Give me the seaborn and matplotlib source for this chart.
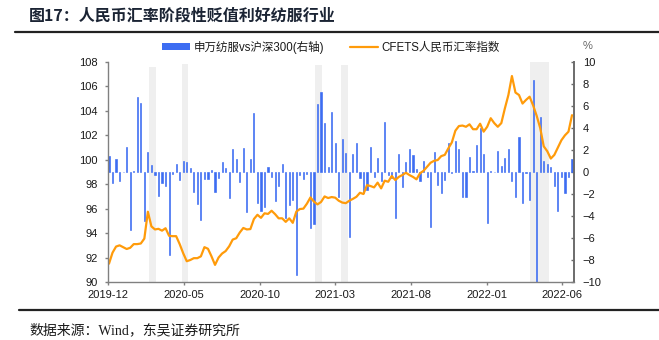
import numpy as np
import pandas as pd
import matplotlib
matplotlib.use("Agg")
import matplotlib.pyplot as plt
import matplotlib.dates as mdates
from matplotlib.ticker import FixedLocator
from matplotlib.patches import Patch
from matplotlib.lines import Line2D
import seaborn as sns

# ---------------- data ----------------
week_start = "2019-12-03"
week_end = "2022-06-22"

excess_ret = [1.45, -0.97, 1.18, -0.8, 0.0, 2.3, -5.3, 0.1, 6.8, 6.3,
              -4.45, 1.8, 0.65, -0.25, -2.2, -1.0, -1.3, -7.5, -0.2, 0.7,
              -0.7, 1.0, 0.9, 0.35, -1.8, -2.9, -4.4, -0.6, -0.65, 0.2,
              -1.85, -0.5, 0.9, 0.35, -2.4, 2.1, 1.15, -0.9, 2.2, -3.6,
              1.2, 5.4, -2.8, -3.55, -3.15, 0.42, -0.42, -2.65, -1.27, 0.7,
              -4.2, -3.0, -2.55, -9.4, -0.25, -0.65, -0.22, -5.06, -4.73, 6.22,
              7.24, 4.42, 0.42, 5.42, 2.6, -2.3, 2.97, 1.75, -5.95, 1.65,
              2.67, -0.5, -1.9, -1.6, 2.24, -0.45, 1.25, -0.8, 4.55, -0.27,
              -0.5, -4.2, 1.6, -1.4, 0.9, 2.12, 1.55, 0.28, -0.8, 1.02,
              -0.44, -5.03, 1.83, -1.2, -1.94, -0.7, 2.62, -0.13, 2.8, 2.06,
              -2.3, -2.3, 1.33, 0.1, 2.45, 3.97, 1.6, -4.6, 0.1, 0.0,
              1.9, 0.55, 1.27, 2.1, -0.8, -2.25, 3.2, -2.8, -0.06, -2.55,
              8.36, -10.4, 4.97, 1.0, 0.7, 0.45, -1.3, -3.5, -0.42, -1.94,
              -0.42, 1.15]

cfets = [91.5, 92.4, 92.9, 93.0, 92.85, 92.7, 92.8, 93.1, 93.1, 93.15,
         93.55, 95.75, 94.55, 94.3, 94.35, 94.2, 94.4, 93.78, 93.75, 93.75,
         93.1, 92.35, 91.7, 91.8, 91.95, 91.95, 92.1, 92.85, 92.72, 92.1,
         91.4, 92.0, 92.33, 92.53, 92.92, 93.47, 93.58, 94.05, 94.42, 94.3,
         94.33, 95.15, 95.5, 95.25, 95.62, 95.57, 95.83, 95.55, 95.21, 95.21,
         94.92, 95.21, 94.84, 95.76, 95.97, 96.0, 96.41, 96.92, 96.57, 96.35,
         96.55, 97.0, 96.87, 96.95, 96.9, 96.65, 96.5, 96.45, 96.65, 96.8,
         96.97, 97.3, 97.2, 97.93, 97.85, 97.74, 98.13, 97.66, 98.29, 98.2,
         98.67, 98.34, 98.6, 98.75, 98.94, 98.75, 98.6, 98.4, 98.9, 99.1,
         99.43, 99.76, 99.92, 99.98, 100.3, 100.4, 100.93, 101.42, 102.38, 102.76,
         102.8, 102.7, 102.9, 102.5, 102.5, 102.95, 102.3, 102.7, 103.4, 103.0,
         102.7, 103.0, 104.2, 105.3, 106.85, 105.5, 105.3, 104.6, 104.9, 105.16,
         104.45, 103.6, 102.6, 101.1, 100.7, 100.1, 100.4, 101.0, 101.6, 102.0,
         102.3, 103.65]

band_start = ["2020-02-21", "2020-04-27", "2021-01-20", "2021-03-13", "2022-03-30"]
band_end = ["2020-03-06", "2020-05-11", "2021-02-03", "2021-03-29", "2022-05-06"]
band_top = [0.979, 0.991, 0.986, 0.986, 1.0]

tick_dates = ["2019-12-01", "2020-05-01", "2020-10-01", "2021-03-01",
              "2021-08-01", "2022-01-01", "2022-06-01"]
x_range = ["2019-12-01", "2022-06-26"]

title = "图17：人民币汇率阶段性贬值利好纺服行业"
bar_label = "申万纺服vs沪深300(右轴)"
line_label = "CFETS人民币汇率指数"
source = "数据来源：Wind，东吴证券研究所"

BLUE = "#3d6df2"
ORANGE = "#ff9b0a"
GRID_GREY = "#808080"

# ---------------- style ----------------
sns.set_theme(style="white")
plt.rcParams["font.family"] = ["Liberation Sans", "Noto Sans CJK SC"]

dates = pd.date_range(week_start, week_end, periods=len(excess_ret))
df = pd.DataFrame({"x": mdates.date2num(dates), "excess": excess_ret, "cfets": cfets})

fig = plt.figure(figsize=(6.59, 3.40), dpi=100)
ax = fig.add_axes([108 / 659, 58 / 340, 466 / 659, 220 / 340])

for s, e, t in zip(band_start, band_end, band_top):
    ax.axvspan(mdates.date2num(pd.Timestamp(s)), mdates.date2num(pd.Timestamp(e)),
               ymin=0, ymax=t, color="#efefef", lw=0, zorder=0)

sns.barplot(data=df, x="x", y="excess", native_scale=True, orient="x",
            width=0.32, color=BLUE, saturation=1, errorbar=None, ax=ax, zorder=2,
            edgecolor=BLUE, linewidth=0.45)
ax.set_ylim(-10, 10)
ax.set_yticks(np.arange(-10, 11, 2))

ax2 = ax.twinx()
sns.lineplot(data=df, x="x", y="cfets", ax=ax2, color=ORANGE, linewidth=1.6)
ax2.set_ylim(90, 108)
ax2.set_yticks(np.arange(90, 109, 2))

ax.yaxis.tick_right()
ax2.yaxis.tick_left()

xr = mdates.date2num(pd.to_datetime(x_range))
ax.set_xlim(xr[0], xr[1])
ax.xaxis.set_major_locator(FixedLocator(mdates.date2num(pd.to_datetime(tick_dates))))
ax.xaxis.set_major_formatter(mdates.DateFormatter("%Y-%m"))

for a in (ax, ax2):
    a.set_xlabel("")
    a.set_ylabel("")
    a.grid(False)

for sp in ("top", "left"):
    ax.spines[sp].set_visible(False)
ax.spines["right"].set_color("#6b6b6b")
ax.spines["right"].set_linewidth(1.4)
ax.spines["bottom"].set_color(GRID_GREY)
ax.spines["bottom"].set_linewidth(1.0)
for sp in ("top", "right", "bottom"):
    ax2.spines[sp].set_visible(False)
ax2.spines["left"].set_color(GRID_GREY)
ax2.spines["left"].set_linewidth(1.0)

ax.tick_params(axis="y", left=False, right=True, labelleft=False, labelright=True,
               direction="in", length=2.5, width=1, color="#6b6b6b", pad=6.3,
               labelsize=8, labelcolor="#1a1a1a")
ax.tick_params(axis="x", bottom=True, direction="out", length=2.5, width=1,
               color=GRID_GREY, pad=3.5, labelsize=8, labelcolor="#1a1a1a")
ax2.tick_params(axis="y", left=True, right=False, labelleft=True, labelright=False,
                direction="out", length=2.5, width=1, color=GRID_GREY, pad=5,
                labelsize=8, labelcolor="#1a1a1a")

# legend
handles = [Patch(facecolor=BLUE, edgecolor="none"), Line2D([], [], color=ORANGE, lw=1.6)]
fig.legend(handles, [bar_label, line_label], loc="center",
           bbox_to_anchor=(331 / 659, 1 - 47 / 340), ncol=2, frameon=False,
           fontsize=8.3, handlelength=2.4, handleheight=0.55, handletextpad=0.3,
           columnspacing=2.3, labelcolor="#1a1a1a")
fig.text(588 / 659, 1 - 46 / 340, "%", ha="center", va="center", fontsize=8, color="#666666")

# title, rules, source
fig.text(29 / 659, 1 - 16 / 340, title, ha="left", va="center", fontsize=11.5,
         fontweight="bold", color="#1b2434", family=["Noto Sans CJK SC"])
fig.add_artist(Line2D([15 / 659, 1.0], [1 - 32 / 340] * 2, transform=fig.transFigure,
                      color="#222222", lw=1.6))
fig.add_artist(Line2D([19 / 659, 1.0], [1 - 310 / 340] * 2, transform=fig.transFigure,
                      color="#222222", lw=1.6))
fig.text(29 / 659, 1 - 330 / 340, source, ha="left", va="center", fontsize=10,
         color="#1a1a1a", family=["Liberation Serif", "Noto Sans CJK SC"])

fig.savefig("out.png", dpi=100)
